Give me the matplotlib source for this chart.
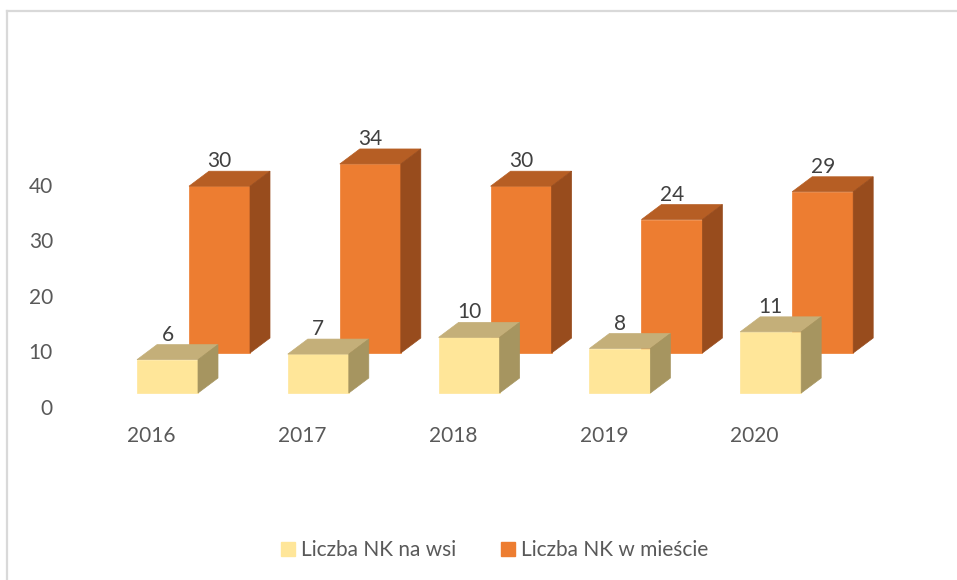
import matplotlib.pyplot as plt
from matplotlib.patches import Polygon
from matplotlib.lines import Line2D

years = ['2016', '2017', '2018', '2019', '2020']
wies = [6, 7, 10, 8, 11]
miasto = [30, 34, 30, 24, 29]
yticks = [0, 10, 20, 30, 40]
series_names = ['Liczba NK na wsi', 'Liczba NK w mieście']

# kolory: przód, góra, bok
yellow = ('#FFE699', '#C4AF79', '#A69560')
orange = ('#ED7D31', '#B65E24', '#984C1D')

W, H = 957, 580
PX_CAT = 150.8      # piksele na kategorię
PX_VAL = 5.56       # piksele na jednostkę
X0 = 167.5          # środek przedniej ściany żółtego słupka 2016
Y0 = 407            # pozycja 0 na osi (od góry)

bw = 61 / PX_CAT                 # szerokość słupka
ddx, ddy = 20 / PX_CAT, 15 / PX_VAL   # głębokość pudełka
row_dx, row_dy = 52 / PX_CAT, 40 / PX_VAL  # przesunięcie tylnego rzędu
base = 14 / PX_VAL               # podstawa przedniego rzędu
FS = 15

plt.rcParams['font.family'] = ['Lato', 'DejaVu Sans']
fig = plt.figure(figsize=(W / 100, H / 100), dpi=100)
ax_left = 62
ax = fig.add_axes([ax_left / W, 0, 1 - ax_left / W, 1])
ax.set_xlim((ax_left - X0) / PX_CAT, (W - X0) / PX_CAT)
ax.set_ylim((Y0 - H) / PX_VAL, Y0 / PX_VAL)
for s in ax.spines.values():
    s.set_visible(False)
ax.set_xticks([])
ax.set_yticks(yticks)
ax.tick_params(axis='y', length=0, pad=6.5, labelsize=FS, labelcolor='#595959')


def box(xc, y0, h, cols, z):
    xl, xr = xc - bw / 2, xc + bw / 2
    yt = y0 + h
    front = [(xl, y0), (xr, y0), (xr, yt), (xl, yt)]
    top = [(xl, yt), (xr, yt), (xr + ddx, yt + ddy), (xl + ddx, yt + ddy)]
    side = [(xr, y0), (xr + ddx, y0 + ddy), (xr + ddx, yt + ddy), (xr, yt)]
    for pts, c in zip((front, top, side), cols):
        ax.add_patch(Polygon(pts, closed=True, facecolor=c, edgecolor=c,
                             linewidth=0.5, zorder=z))


# tylny rząd (miasto)
for i, v in enumerate(miasto):
    xc = i + row_dx
    y0 = base + row_dy
    box(xc, y0, v, orange, 2)
    ax.text(xc, y0 + v + ddy + 10 / PX_VAL, str(v), ha='center', va='center',
            fontsize=FS, color='#404040', zorder=5)

# przedni rząd (wieś)
for i, v in enumerate(wies):
    box(i, base, v, yellow, 3)
    ax.text(i, base + v + ddy + 10 / PX_VAL, str(v), ha='center', va='center',
            fontsize=FS, color='#404040', zorder=5)

for i, y in enumerate(years):
    ax.text(i - 16 / PX_CAT, (Y0 - 436) / PX_VAL, y, ha='center', va='center',
            fontsize=FS, color='#595959')

handles = [Line2D([], [], marker='s', linestyle='', markersize=10,
                  markerfacecolor=yellow[0], markeredgecolor=yellow[0]),
           Line2D([], [], marker='s', linestyle='', markersize=10,
                  markerfacecolor=orange[0], markeredgecolor=orange[0])]
fig.legend(handles, series_names, loc='center', bbox_to_anchor=(493 / W, 1 - 550 / H),
           ncol=2, frameon=False, fontsize=FS, labelcolor='#595959',
           handletextpad=0.1, columnspacing=2.0, handlelength=1.0)

# ramka (lewa i górna krawędź)
fig.add_artist(Line2D([7.5 / W, 7.5 / W], [0, 1 - 10.5 / H], color='#D9D9D9', lw=1.6))
fig.add_artist(Line2D([7.5 / W, 1], [1 - 10.5 / H, 1 - 10.5 / H], color='#D9D9D9', lw=1.6))

fig.savefig('out.png', dpi=100, facecolor='white')
